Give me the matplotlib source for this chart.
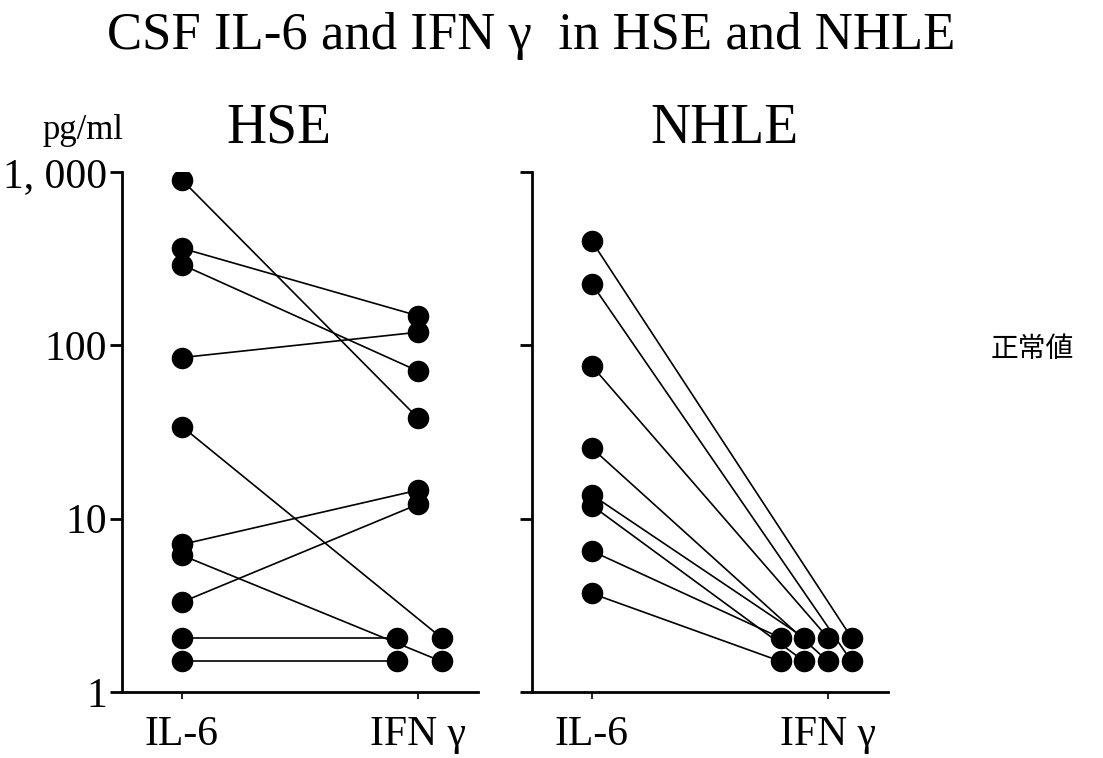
import matplotlib
matplotlib.use("Agg")
import matplotlib.pyplot as plt

# values (pg/ml)
hse_il6 = [900, 363, 292, 85, 34, 7.1, 6.15, 3.3, 2.05, 1.5]
hse_ifn = [38, 148, 71, 119, 2.05, 14.6, 1.5, 12.1, 2.05, 1.5]
nhle_il6 = [398, 226, 76, 25.5, 13.7, 11.9, 6.5, 3.7]
nhle_ifn = [2.05, 1.5, 2.05, 1.5, 2.05, 1.5, 2.05, 1.5]

categories = ["IL-6", "IFN \u03b3"]
ytick_vals = [1, 10, 100, 1000]
ytick_labels = ["1", "10", "100", "1, 000"]

# horizontal spread of overlapping IFN dots (layout only)
hse_dx = [0, 0, 0, 0, 0.1, 0, 0.1, 0, -0.09, -0.09]
nhle_dx = [0.1, 0.1, 0, 0, -0.1, -0.1, -0.2, -0.2]

serif = ["Liberation Serif", "DejaVu Serif"]

fig = plt.figure(figsize=(11.03, 7.58), dpi=100)
ax1 = fig.add_axes([0.1106, 0.0871, 0.3228, 0.686])
ax2 = fig.add_axes([0.4823, 0.0871, 0.3228, 0.686])


def panel(ax, il6, ifn, dx, labels):
    for a, b, d in zip(il6, ifn, dx):
        ax.plot([0, 1 + d], [a, b], color="black", lw=1.2, zorder=2)
    ax.plot([0] * len(il6), il6, "o", color="black", ms=14.5, zorder=3)
    ax.plot([1 + d for d in dx], ifn, "o", color="black", ms=14.5, zorder=3)
    ax.set_yscale("log")
    ax.set_ylim(1, 1000)
    ax.set_xlim(-0.254, 1.254)
    ax.minorticks_off()
    ax.set_yticks(ytick_vals)
    if labels:
        ax.set_yticklabels(ytick_labels, family=serif, fontsize=30)
    else:
        ax.set_yticklabels([])
    ax.set_xticks([0, 1])
    ax.set_xticklabels(categories, family=serif, fontsize=30)
    ax.tick_params(axis="y", direction="out", length=9, width=2, pad=2)
    ax.tick_params(axis="x", direction="out", length=5, width=1.2, pad=12)
    for s in ["top", "right"]:
        ax.spines[s].set_visible(False)
    for s in ["left", "bottom"]:
        ax.spines[s].set_linewidth(2)


panel(ax1, hse_il6, hse_ifn, hse_dx, True)
panel(ax2, nhle_il6, nhle_ifn, nhle_dx, False)

fig.text(0.253, 0.83, "HSE", family=serif, fontsize=40, ha="center", va="center")
fig.text(0.657, 0.83, "NHLE", family=serif, fontsize=40, ha="center", va="center")
fig.text(0.075, 0.828, "pg/ml", family=serif, fontsize=25, ha="center", va="center")
fig.text(0.482, 0.952, "CSF IL-6 and IFN \u03b3  in HSE and NHLE", family=serif,
         fontsize=38, ha="center", va="center")
fig.text(0.936, 0.54, "正常値", family=["Noto Sans CJK JP", "DejaVu Sans"],
         fontsize=20, ha="center", va="center")

fig.savefig("out.png", dpi=100, facecolor="white")
